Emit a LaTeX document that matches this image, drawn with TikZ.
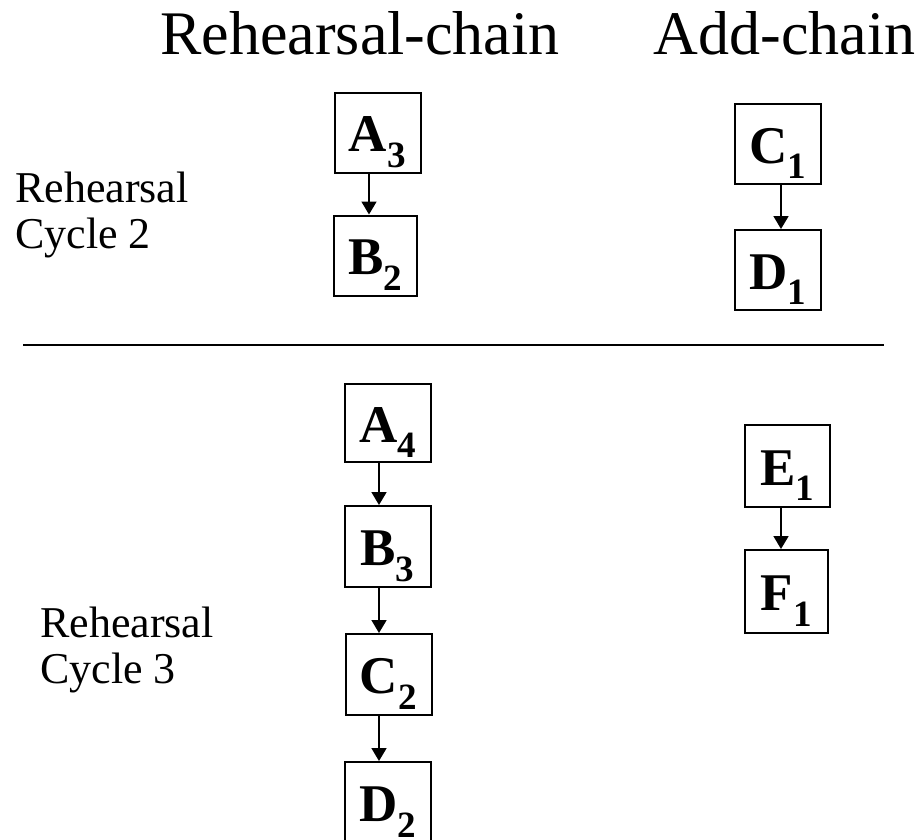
\documentclass[tikz,border=0pt]{standalone}
\usepackage{fontspec}
\setmainfont{Liberation Serif}
\usetikzlibrary{arrows.meta}
\begin{document}
\begin{tikzpicture}[x=1pt,y=-1pt,
  box/.style={draw,line width=2pt,minimum width=86pt,minimum height=80pt,inner sep=0pt,
    font=\fontsize{53}{58}\selectfont\bfseries,text height=38pt,text depth=0pt},
  flow/.style={line width=1.8pt,-{Triangle[length=13pt,width=15pt]}},
  title/.style={font=\fontsize{62}{70}\selectfont,anchor=base,inner sep=0pt},
  side/.style={font=\fontsize{44}{46}\selectfont,anchor=base west,inner sep=0pt}]
\useasboundingbox (0,0) rectangle (918,840);
\fill[white] (0,0) rectangle (918,840);
% titles
\node[title] (t1) at (360,55) {Rehearsal-chain};
\node[title] (t2) at (784.5,55) {Add-chain};
% side labels
\node[side] (s1a) at (15,202) {Rehearsal};
\node[side] (s1b) at (15,248) {Cycle 2};
\node[side] (s2a) at (40,637) {Rehearsal};
\node[side] (s2b) at (40,683) {Cycle 3};
% separator
\coordinate (hl) at (23,345);
\coordinate (hr) at (884,345);
\draw[line width=2pt] (hl) -- (hr);
% cycle 2
\node[box] (A3) at (377.5,133) {A\textsubscript{3}};
\node[box,minimum width=83pt] (B2) at (375.5,255.5) {B\textsubscript{2}};
\node[box] (C1) at (778,144) {C\textsubscript{1}};
\node[box] (D1) at (778,270) {D\textsubscript{1}};
\draw[flow] ([xshift=-8.5pt]A3.south) -- ([xshift=-8.5pt]A3.south |- B2.north);
\draw[flow] ([xshift=3pt]C1.south) -- ([xshift=3pt]C1.south |- D1.north);
% cycle 3
\node[box,minimum height=78pt] (A4) at (388,423) {A\textsubscript{4}};
\node[box,minimum height=81pt] (B3) at (387.5,546.5) {B\textsubscript{3}};
\node[box,minimum height=81pt] (C2) at (388.5,674.5) {C\textsubscript{2}};
\node[box,minimum width=86pt] (D2) at (388,802) {D\textsubscript{2}};
\draw[flow] ([xshift=-9pt]A4.south) -- ([xshift=-9pt]A4.south |- B3.north);
\draw[flow] ([xshift=-8.5pt]B3.south) -- ([xshift=-8.5pt]B3.south |- C2.north);
\draw[flow] ([xshift=-9.5pt]C2.south) -- ([xshift=-9.5pt]C2.south |- D2.north);
\node[box,minimum width=85pt,minimum height=82pt] (E1) at (787.5,466) {E\textsubscript{1}};
\node[box,minimum width=83pt,minimum height=83pt] (F1) at (786.5,591.5) {F\textsubscript{1}};
\draw[flow] ([xshift=-6.5pt]E1.south) -- ([xshift=-6.5pt]E1.south |- F1.north);
\end{tikzpicture}
\end{document}
